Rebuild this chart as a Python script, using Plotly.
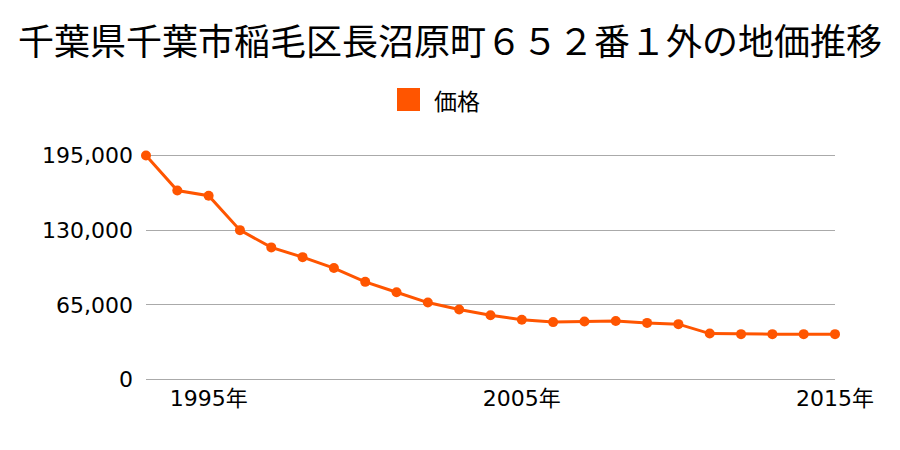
import plotly.graph_objects as go

title = "千葉県千葉市稲毛区長沼原町６５２番１外の地価推移"
series_name = "価格"
years = list(range(1993, 2016))
prices = [195000, 164500, 160000, 130000, 115000, 106500, 97000, 85000, 76000,
          67000, 61000, 56000, 52000, 50000, 50500, 51000, 49300, 48200,
          40000, 39500, 39500, 39500, 39500]
x_ticks = [1995, 2005, 2015]
x_tick_labels = ["1995年", "2005年", "2015年"]
y_ticks = [0, 65000, 130000, 195000]
y_tick_labels = ["0", "65,000", "130,000", "195,000"]

color = "#ff5500"
cjk = "Noto Sans CJK JP"
num_font = "DejaVu Sans, Noto Sans CJK JP"

W, H = 900, 450
L, R, T, B = 146, 65, 152, 67
pw, ph = W - L - R, H - T - B


def px(x):
    return (x - L) / pw


def py(y):
    return (H - B - y) / ph


fig = go.Figure()
fig.add_trace(go.Scatter(
    x=years, y=prices, mode="lines+markers", name=series_name,
    line=dict(color=color, width=3),
    marker=dict(color=color, size=10),
    showlegend=False, cliponaxis=False,
))

# manual legend (square swatch + label)
fig.add_shape(type="rect", xref="paper", yref="paper",
              x0=px(397), x1=px(420), y0=py(111), y1=py(88),
              fillcolor=color, line=dict(width=0))
fig.add_annotation(text=series_name, xref="paper", yref="paper",
                   x=px(432), y=py(99.5), xanchor="left", yanchor="middle",
                   showarrow=False, font=dict(size=23, family=cjk, color="#000000"))

fig.update_layout(
    width=W, height=H,
    margin=dict(l=L, r=R, t=T, b=B),
    paper_bgcolor="white", plot_bgcolor="white",
    font=dict(family=num_font, color="#000000", size=22),
    title=dict(text=title, x=0.5, xanchor="center", y=1 - 42/450, yanchor="middle",
               font=dict(size=36, family=cjk)),
    showlegend=False,
    xaxis=dict(range=[1993, 2015], tickvals=x_ticks, ticktext=x_tick_labels,
               showgrid=False, zeroline=False, showline=False, ticks="",
               tickfont=dict(size=22, family=num_font)),
    yaxis=dict(range=[-3000, 198000], tickvals=y_ticks, ticktext=y_tick_labels,
               showgrid=True, gridcolor="#aaaaaa", gridwidth=1, zeroline=False,
               showline=False, ticks="", ticklabelstandoff=12,
               tickfont=dict(size=22, family=num_font)),
)
fig.write_html("out.html")
